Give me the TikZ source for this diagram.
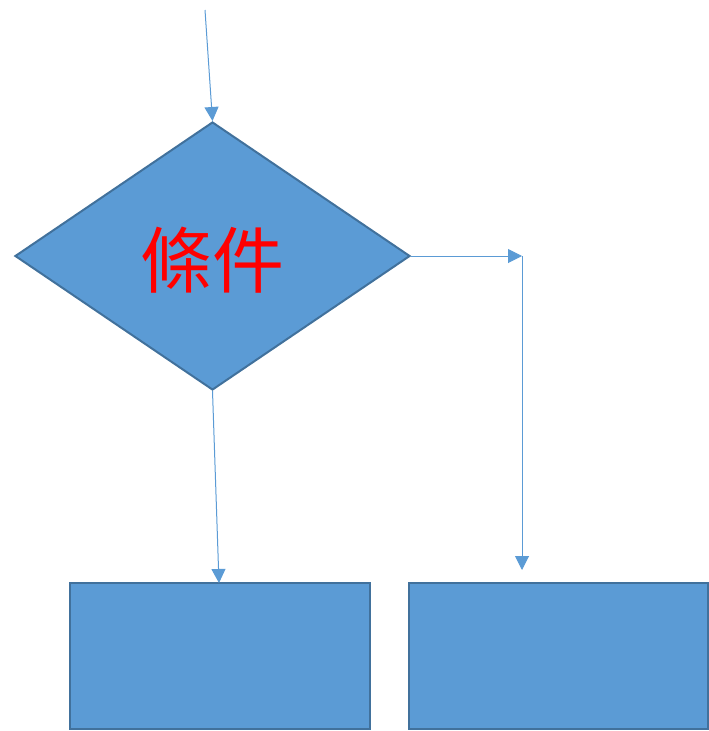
\documentclass[tikz,border=0pt]{standalone}
\usepackage{fontspec}
\newfontfamily\cjk{Noto Sans CJK TC}
\usetikzlibrary{shapes.geometric,arrows.meta}
\definecolor{boxblue}{HTML}{5B9BD5}
\definecolor{edgeblue}{HTML}{41719C}
\tikzset{
  shapebox/.style={draw=edgeblue, fill=boxblue, line width=2pt, inner sep=0pt},
  flow/.style={draw=boxblue, line width=1pt, -{Triangle[length=14pt,width=14pt]}}
}
\begin{document}
\begin{tikzpicture}[x=1pt, y=-1pt]
  \useasboundingbox (0, 0) rectangle (709, 731);
  % decision and the two branches
  \node (cond) [shapebox, diamond, minimum width=395pt, minimum height=268pt] at (212.5, 256) {};
  \node (label) [text=red, inner sep=0pt] at (212, 260) {\cjk\fontsize{72}{72}\selectfont 條件};
  \node (lbox) [shapebox, rectangle, minimum width=300pt, minimum height=146pt] at (220, 656) {};
  \node (rbox) [shapebox, rectangle, minimum width=299pt, minimum height=146pt] at (558.5, 656) {};
  \coordinate (start) at (205, 10);
  \coordinate (turn) at (522, 256);
  \coordinate (drop) at (522, 570);
  \coordinate (lend) at (219, 583);
  \draw[flow] (start) -- (cond.north);
  \draw[flow] (cond.south) -- (lend);
  \draw[flow] (cond.east) -- (turn);
  \draw[flow] (turn) -- (drop);
\end{tikzpicture}
\end{document}
